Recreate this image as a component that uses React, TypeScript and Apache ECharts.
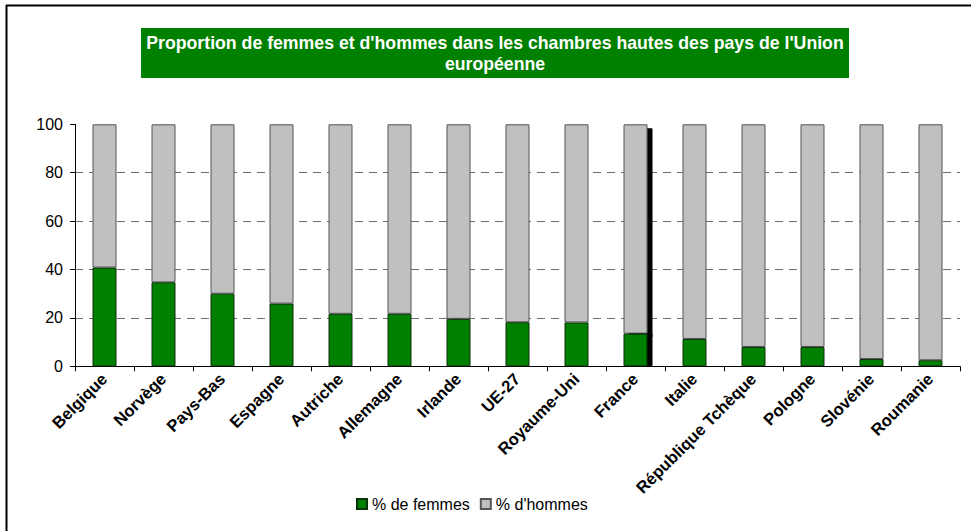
import React, { useEffect, useRef } from "react";
import * as echarts from "echarts";

const countries = [
  "Belgique", "Norvège", "Pays-Bas", "Espagne", "Autriche", "Allemagne", "Irlande",
  "UE-27", "Royaume-Uni", "France", "Italie", "République Tchèque", "Pologne", "Slovénie", "Roumanie",
];
const womenPct = [40.8, 34.7, 30.0, 25.9, 21.7, 21.7, 19.6, 18.2, 18.1, 13.5, 11.3, 8.0, 8.0, 3.0, 2.5];
const menPct = womenPct.map((v) => +(100 - v).toFixed(1));
const yTicks = [0, 20, 40, 60, 80, 100];
const titleLines = ["Proportion de femmes et d'hommes dans les chambres hautes des pays de l'Union", "européenne"];
const legendNames = ["% de femmes", "% d'hommes"];
const highlighted = "France";

export default function App() {
  const ref = useRef<HTMLDivElement>(null);
  useEffect(() => {
    document.body.style.margin = "0";
    const chart = echarts.init(ref.current!, null, { renderer: "svg" });
    const font = "Arial, 'Liberation Sans', sans-serif";
    const shadowOf = (name: string, offY: number) =>
      name === highlighted
        ? { shadowColor: "#000", shadowBlur: 0, shadowOffsetX: 5, shadowOffsetY: offY }
        : {};
    chart.setOption({
      animation: false,
      backgroundColor: "#fff",
      textStyle: { fontFamily: font },
      grid: { left: 75, right: 11, top: 124.3, bottom: 164.7, containLabel: false },
      legend: {
        data: legendNames,
        left: 351,
        top: 491,
        itemWidth: 10,
        itemHeight: 10,
        itemGap: 10,
        icon: "rect",
        textStyle: { fontSize: 16, color: "#000", fontFamily: font },
      },
      xAxis: {
        type: "category",
        data: countries,
        axisLine: { lineStyle: { color: "#000", width: 1 } },
        axisTick: { show: true, length: 5, lineStyle: { color: "#000" } },
        axisLabel: {
          interval: 0,
          rotate: 45,
          margin: 10,
          fontSize: 16.6,
          fontWeight: "bold",
          color: "#000",
          fontFamily: font,
        },
      },
      yAxis: {
        type: "value",
        min: yTicks[0],
        max: yTicks[yTicks.length - 1],
        interval: 20,
        axisLine: { show: true, lineStyle: { color: "#000", width: 1 } },
        axisTick: { show: true, length: 5, lineStyle: { color: "#000" } },
        axisLabel: { fontSize: 16, color: "#000", margin: 12, fontFamily: font },
        splitLine: {
          show: true,
          showMinLine: false,
          showMaxLine: false,
          lineStyle: { color: "#6e6e6e", type: [8, 6], width: 1 },
        },
      },
      series: [
        {
          name: legendNames[0],
          type: "bar",
          stack: "total",
          barWidth: 24,
          z: 3,
          itemStyle: { color: "#008000", borderColor: "#0b2e0b", borderWidth: 1 },
          data: womenPct.map((v, i) => ({ value: v, itemStyle: shadowOf(countries[i], 0) })),
        },
        {
          name: legendNames[1],
          type: "bar",
          stack: "total",
          barWidth: 24,
          z: 2,
          itemStyle: { color: "#C0C0C0", borderColor: "#555", borderWidth: 1 },
          data: menPct.map((v, i) => ({ value: v, itemStyle: shadowOf(countries[i], 4) })),
        },
      ],
      graphic: [
        {
          type: "line",
          shape: { x1: 6, y1: 5.5, x2: 971, y2: 5.5 },
          style: { stroke: "#000", lineWidth: 2 },
        },
        {
          type: "line",
          shape: { x1: 6.5, y1: 5, x2: 6.5, y2: 531 },
          style: { stroke: "#000", lineWidth: 2 },
        },
        {
          type: "rect",
          shape: { x: 141, y: 28, width: 708, height: 50 },
          style: { fill: "#008000" },
        },
        {
          type: "text",
          x: 495,
          y: 53,
          style: {
            text: titleLines.join("\n"),
            fill: "#fff",
            font: `bold 17.7px ${font}`,
            align: "center",
            verticalAlign: "middle",
            lineHeight: 21,
          },
        },
      ],
    });
    return () => chart.dispose();
  }, []);
  return <div ref={ref} style={{ width: 971, height: 531 }} />;
}
